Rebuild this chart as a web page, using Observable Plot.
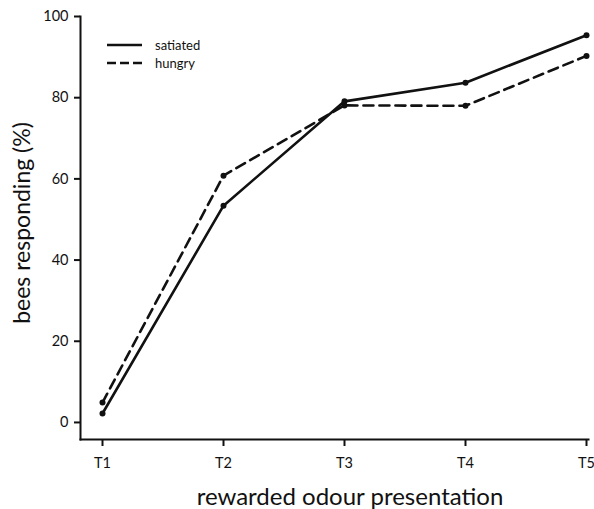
<!DOCTYPE html>
<html>
<head>
<meta charset="utf-8">
<script src="https://cdn.jsdelivr.net/npm/d3@7"></script>
<script src="https://cdn.jsdelivr.net/npm/@observablehq/plot@0.6"></script>
<style>
  html, body { margin: 0; padding: 0; background: #fff; }
  #chart { position: relative; width: 594px; height: 509px; }
</style>
</head>
<body>
<div id="chart"></div>
<script>
const trials = ["T1", "T2", "T3", "T4", "T5"];
const satiated = [2.2, 53.4, 79.1, 83.7, 95.4];
const hungry = [4.9, 60.8, 78.1, 78.0, 90.3];
const yTicks = [0, 20, 40, 60, 80, 100];
const seriesNames = ["satiated", "hungry"];

const data = [
  ...trials.map((t, i) => ({trial: t, value: satiated[i], group: "satiated"})),
  ...trials.map((t, i) => ({trial: t, value: hungry[i], group: "hungry"}))
];

const font = "Lato, 'Open Sans', sans-serif";

const plot = Plot.plot({
  width: 594,
  height: 509,
  marginLeft: 80,
  marginRight: 6,
  marginTop: 16,
  marginBottom: 70,
  style: {fontFamily: font, fontSize: "14.5px", color: "#111", background: "#fff"},
  x: {type: "point", domain: trials, range: [101, 587.5], padding: 0, label: null},
  y: {domain: [-4.2, 100], label: null},
  marks: [
    Plot.frame({anchor: "left", stroke: "#111", strokeWidth: 2}),
    Plot.frame({anchor: "bottom", stroke: "#111", strokeWidth: 2}),
    Plot.axisY({ticks: yTicks, tickSize: 6, tickPadding: 6, tickFormat: d => String(d), strokeWidth: 2, label: null}),
    Plot.axisX({tickSize: 7, tickPadding: 11, strokeWidth: 2, label: null}),
    Plot.line(data.filter(d => d.group === "hungry"), {x: "trial", y: "value", stroke: "#111", strokeWidth: 2.6, strokeDasharray: "10,6"}),
    Plot.line(data.filter(d => d.group === "satiated"), {x: "trial", y: "value", stroke: "#111", strokeWidth: 2.6}),
    Plot.dot(data, {x: "trial", y: "value", r: 3, fill: "#111", stroke: "none"})
  ]
});

document.getElementById("chart").appendChild(plot);

const svg = d3.select(plot);
// axis titles
svg.append("text")
  .attr("x", 350).attr("y", 505)
  .attr("text-anchor", "middle")
  .style("font-family", font).style("font-size", "24px").attr("fill", "#111")
  .text("rewarded odour presentation");
svg.append("text")
  .attr("transform", "translate(30,223) rotate(-90)")
  .attr("text-anchor", "middle")
  .style("font-family", font).style("font-size", "23px").attr("fill", "#111")
  .text("bees responding (%)");

// legend
const leg = svg.append("g");
seriesNames.forEach((name, i) => {
  const y = 45 + i * 18;
  leg.append("line")
    .attr("x1", 107).attr("x2", 142).attr("y1", y).attr("y2", y)
    .attr("stroke", "#111").attr("stroke-width", 2.6)
    .attr("stroke-dasharray", name === "hungry" ? "9,4" : null);
  leg.append("text")
    .attr("x", 155).attr("y", y).attr("dy", "0.35em")
    .attr("text-anchor", "start")
    .style("font-family", font).style("font-size", "13px").attr("fill", "#111")
    .text(name);
});
</script>
</body>
</html>
